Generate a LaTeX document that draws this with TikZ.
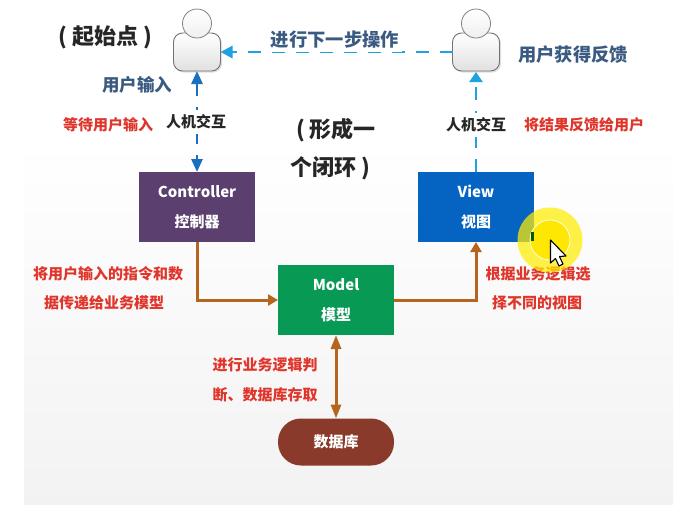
\documentclass[tikz,border=0pt]{standalone}
\usepackage{fontspec}
\setmainfont{Noto Sans CJK SC}
\usetikzlibrary{arrows.meta,shadows,calc}
\definecolor{redtxt}{HTML}{E0352B}
\definecolor{bluetxt}{HTML}{3A5A82}
\definecolor{lblue}{HTML}{1FA2E2}
\definecolor{dblue}{HTML}{1A70C0}
\definecolor{brn}{HTML}{B5651D}
\tikzset{
  x=1pt,y=-1pt,
  every node/.style={inner sep=0pt,outer sep=0pt},
  redlab/.style={text=redtxt,font=\fontsize{15}{15}\selectfont\bfseries,anchor=center},
  bluelab/.style={text=bluetxt,font=\fontsize{18.3}{18.3}\selectfont\bfseries},
  blacklab/.style={text=black!85,font=\fontsize{22}{22}\selectfont\bfseries},
  hci/.style={text=black!85,font=\fontsize{15}{15}\selectfont\bfseries,fill=white,inner ysep=5pt,inner xsep=2pt},
  mvc/.style={minimum width=116pt,minimum height=70pt,text=white,align=center,
     font=\fontsize{15}{30}\selectfont\bfseries},
  head/.style={circle,minimum size=29pt,draw=black!50,line width=.8pt,top color=white,bottom color=black!6},
  body/.style={rounded corners=9pt,minimum width=47pt,minimum height=38pt,draw=black!55,line width=.9pt,
     top color=white,bottom color=black!12,drop shadow={shadow xshift=1.5pt,shadow yshift=-1.5pt,opacity=.25}},
  flow/.style={draw=brn,line width=3pt,-{Triangle[length=10pt,width=11pt]}},
  flowboth/.style={draw=brn,line width=3pt,{Triangle[length=14pt,width=10pt]}-{Triangle[length=14pt,width=10pt]}},
  dashline/.style={line width=2.8pt,dash pattern=on 13pt off 11pt},
}
\begin{document}
\begin{tikzpicture}
\useasboundingbox (0,0) rectangle (682,504);
\fill[white] (0,0) rectangle (682,504);
\shade[top color=white,bottom color=black!5] (24,140) rectangle (673,504);
% users
\node[body] (u1) at (197,52) {};
\node[head] (h1) at (197,23.5) {};
\node[body] (u2) at (476,52) {};
\node[head] (h2) at (476,23.5) {};
% boxes
\node[mvc,fill={rgb,255:red,91;green,63;blue,110}] (ctrl) at (197,207) {Controller\\控制器};
\node[mvc,fill={rgb,255:red,5;green,99;blue,193}] (view) at (476,207) {View\\视图};
\node[mvc,fill={rgb,255:red,8;green,154;blue,85}] (model) at (336,300) {Model\\模型};
\node[rounded corners=23pt,minimum width=116pt,minimum height=47pt,fill={rgb,255:red,138;green,58;blue,43},text=white,font=\fontsize{15}{15}\selectfont\bfseries] (db) at (336,442) {数据库};
% connectors
\draw[dblue,dashline,{Triangle[length=13pt,width=11pt]}-{Triangle[length=13pt,width=11pt]}] (u1.south) -- (ctrl.north);
\draw[lblue,dashline,-{Triangle[length=10pt,width=13pt]}] (view.north) -- ($(u2.south)+(0,1)$);
\draw[lblue,dashline,-{Triangle[length=12pt,width=12pt]}] (u2.west) -- (u1.east);
\draw[flow] (ctrl.south) |- (model.west);
\draw[flow] (model.east) -| (view.south);
\draw[flowboth] (model.south) -- (db.north);
% labels
\node[blacklab] (l1) at (105,37) {( 起始点 )};
\node[bluelab,fill=white,inner xsep=3pt,inner ysep=3pt] (l2) at (335,40) {进行下一步操作};
\node[bluelab,font=\fontsize{17.5}{17.5}\selectfont\bfseries] (l3) at (137,85) {用户输入};
\node[bluelab] (l4) at (573,55) {用户获得反馈};
\node[redlab] (l5) at (108,125) {等待用户输入};
\node[hci] (l6) at (196,122) {人机交互};
\node[hci] (l7) at (476,125) {人机交互};
\node[redlab] (l8) at (584,125) {将结果反馈给用户};
\node[blacklab] (l9) at (336,130) {( 形成一};
\node[blacklab] (l10) at (330,168) {个闭环 )};
\node[redlab] (l11) at (108,274) {将用户输入的指令和数};
\node[redlab] (l12) at (104,303) {据传递给业务模型};
\node[redlab] (l13) at (538,274) {根据业务逻辑选};
\node[redlab] (l14) at (537,303) {择不同的视图};
\node[redlab] (l15) at (265,365) {进行业务逻辑判};
\node[redlab] (l16) at (265,395) {断、数据库存取};
% cursor highlight
\fill[yellow!95!orange,opacity=.72] (550,240) circle (32.5);
\fill[yellow!90!orange] (550,240) circle (20);
\draw[white,line width=.7pt] (550,240) circle (20);
\fill[green!35!black] (531,232) rectangle (534,241);
\draw[black,fill=white,line width=1.1pt,line join=round]
  (550.5,240) -- (550.5,263) -- (555.5,258.5) -- (559,266) -- (563,264) -- (559.5,256.5) -- (566,256) -- cycle;
\end{tikzpicture}
\end{document}
